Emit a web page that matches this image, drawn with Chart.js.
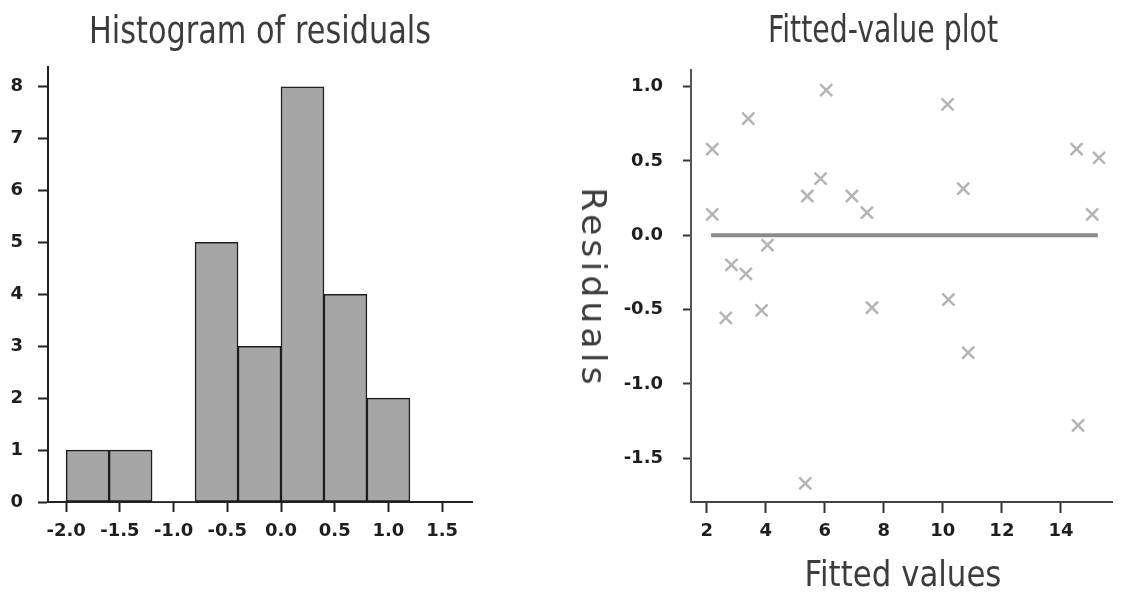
<!DOCTYPE html>
<html>
<head>
<meta charset="utf-8">
<script src="https://cdn.jsdelivr.net/npm/chart.js@4.4.1/dist/chart.umd.min.js"></script>
<style>
html,body{margin:0;padding:0;background:#fff;width:1123px;height:592px;overflow:hidden;position:relative;}
#c1{position:absolute;left:0;top:0;}
#c2{position:absolute;left:560px;top:0;}
.lbl{position:absolute;white-space:nowrap;font-family:"DejaVu Sans",sans-serif;color:#3c3c3c;line-height:1;}
</style>
</head>
<body>
<canvas id="c1" width="560" height="592"></canvas>
<canvas id="c2" width="563" height="592"></canvas>
<div class="lbl" id="t1">Histogram of residuals</div>
<div class="lbl" id="t2">Fitted-value plot</div>
<div class="lbl" id="xl2">Fitted values</div>
<div class="lbl" id="yl2">Residuals</div>
<script>
// ---------- data ----------
const binCenters = [-1.8, -1.4, -1.0, -0.6, -0.2, 0.2, 0.6, 1.0];
const binCounts  = [1, 1, 0, 5, 3, 8, 4, 2];
const histXTicks = [-2.0, -1.5, -1.0, -0.5, 0.0, 0.5, 1.0, 1.5];
const histYTicks = [0, 1, 2, 3, 4, 5, 6, 7, 8];

const fittedValues = [2.19, 2.19, 3.41, 6.05, 2.84, 3.33, 2.65, 3.86, 4.06, 5.41, 5.86, 6.92,
                      7.43, 7.60, 5.34, 10.16, 10.69, 10.19, 10.86, 14.53, 15.29, 15.06, 14.58];
const residuals    = [0.58, 0.14, 0.785, 0.976, -0.20, -0.26, -0.556, -0.505, -0.067, 0.264, 0.381, 0.264,
                      0.152, -0.487, -1.67, 0.88, 0.314, -0.433, -0.79, 0.58, 0.52, 0.14, -1.28];
const fitLineX = [2.15, 15.25];
const fitLineY = [0.0, 0.0];
const fitXTicks = [2, 4, 6, 8, 10, 12, 14];
const fitYTicks = [-1.5, -1.0, -0.5, 0.0, 0.5, 1.0];

// ---------- common ----------
const tickFont = {family: "DejaVu Sans", size: 18, weight: 'bold'};
const tickColor = '#1e1e1e';

// ---------- histogram ----------
new Chart(document.getElementById('c1'), {
  type: 'bar',
  data: {
    datasets: [{
      data: binCenters.map((c, i) => ({x: c, y: binCounts[i]})),
      backgroundColor: '#a6a6a6',
      borderColor: '#1e1e1e',
      borderWidth: ctx => (ctx.raw && ctx.raw.y > 0 ? 1.5 : 0),
      borderSkipped: false,
      barPercentage: 1,
      categoryPercentage: 1
    }]
  },
  options: {
    responsive: false,
    animation: false,
    layout: {padding: {left: 0, top: 67, right: 88, bottom: 40}},
    plugins: {legend: {display: false}, tooltip: {enabled: false}},
    scales: {
      x: {
        type: 'linear', min: -2.169, max: 1.778, offset: false,
        afterBuildTicks: s => { s.ticks = histXTicks.map(v => ({value: v})); },
        afterFit: s => { s.height = 50; },
        ticks: {font: tickFont, color: tickColor, padding: 9, maxRotation: 0, autoSkip: false,
                callback: v => Number(v).toFixed(1)},
        grid: {display: true, offset: false, drawOnChartArea: false, drawTicks: true, tickLength: 10, tickWidth: 2, tickColor: '#222'},
        border: {display: true, color: '#222', width: 2}
      },
      y: {
        min: 0, max: 8.38,
        afterBuildTicks: s => { s.ticks = histYTicks.map(v => ({value: v})); },
        afterFit: s => { s.width = 48; },
        ticks: {font: tickFont, color: tickColor, padding: 15, autoSkip: false,
                callback: v => String(v)},
        grid: {display: true, offset: false, drawOnChartArea: false, drawTicks: true, tickLength: 10, tickWidth: 2, tickColor: '#222'},
        border: {display: true, color: '#222', width: 2}
      }
    }
  }
});

// ---------- fitted-value plot ----------
new Chart(document.getElementById('c2'), {
  type: 'scatter',
  data: {
    datasets: [{
      data: fittedValues.map((x, i) => ({x: x, y: residuals[i]})),
      pointStyle: 'crossRot',
      pointRadius: 8.5,
      borderColor: '#b4b4b4',
      backgroundColor: '#b4b4b4',
      pointBorderWidth: 2.5,
      showLine: false
    }, {
      type: 'line',
      data: fitLineX.map((x, i) => ({x: x, y: fitLineY[i]})),
      borderColor: '#8a8a8a',
      borderWidth: 4,
      pointRadius: 0,
      showLine: true,
      fill: false
    }]
  },
  options: {
    responsive: false,
    animation: false,
    layout: {padding: {left: 0, top: 70, right: 10, bottom: 40}},
    plugins: {legend: {display: false}, tooltip: {enabled: false}},
    scales: {
      x: {
        type: 'linear', min: 1.47, max: 15.73,
        afterBuildTicks: s => { s.ticks = fitXTicks.map(v => ({value: v})); },
        afterFit: s => { s.height = 50; },
        ticks: {font: tickFont, color: tickColor, padding: 8, maxRotation: 0, autoSkip: false,
                callback: v => String(v)},
        grid: {display: true, offset: false, drawOnChartArea: false, drawTicks: true, tickLength: 11, tickWidth: 2, tickColor: '#333'},
        border: {display: true, color: '#444', width: 2}
      },
      y: {
        type: 'linear', min: -1.795, max: 1.112,
        afterBuildTicks: s => { s.ticks = fitYTicks.map(v => ({value: v})); },
        afterFit: s => { s.width = 131; },
        ticks: {font: tickFont, color: tickColor, padding: 20, autoSkip: false,
                callback: v => Number(v).toFixed(1)},
        grid: {display: true, offset: false, drawOnChartArea: false, drawTicks: true, tickLength: 8, tickWidth: 2, tickColor: '#333'},
        border: {display: true, color: '#555', width: 2}
      }
    }
  }
});

// ---------- text labels ----------
function place(id, fs, cx, cy, targetW, rot, spacing) {
  const el = document.getElementById(id);
  el.style.fontSize = fs + 'px';
  if (spacing) el.style.letterSpacing = spacing + 'px';
  const w = el.offsetWidth;
  const s = targetW / w;
  el.style.left = cx + 'px';
  el.style.top = cy + 'px';
  el.style.transform = 'translate(-50%,-50%) rotate(' + rot + 'deg) scaleX(' + s + ')';
}
place('t1', 37, 260, 30.2, 342, 0, 0);
place('t2', 37, 883, 29.2, 230, 0, 0);
place('xl2', 36, 902.5, 573.5, 197, 0, 0);
place('yl2', 34, 593.8, 287.5, 201, 90, 4);
</script>
</body>
</html>
